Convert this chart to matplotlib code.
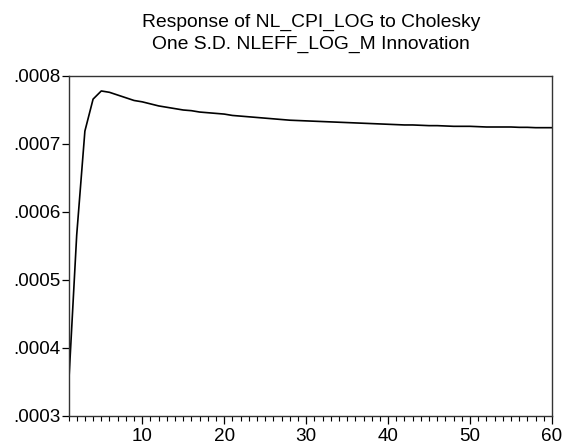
import numpy as np
import matplotlib.pyplot as plt
from matplotlib.ticker import MultipleLocator, FuncFormatter

periods = list(range(1, 61))
# response values in units of 1e-4
response = [3.42, 5.66, 7.19, 7.66, 7.78, 7.76, 7.72, 7.68, 7.64, 7.62,
            7.59, 7.56, 7.54, 7.52, 7.50, 7.49, 7.47, 7.46, 7.45, 7.44,
            7.42, 7.41, 7.40, 7.39, 7.38, 7.37, 7.36, 7.35, 7.345, 7.34,
            7.335, 7.33, 7.325, 7.32, 7.315, 7.31, 7.305, 7.30, 7.295, 7.29,
            7.285, 7.28, 7.28, 7.275, 7.27, 7.27, 7.265, 7.26, 7.26, 7.26,
            7.255, 7.25, 7.25, 7.25, 7.25, 7.245, 7.245, 7.24, 7.24, 7.24]
title_lines = ["Response of NL_CPI_LOG to Cholesky",
               "One S.D. NLEFF_LOG_M Innovation"]

plt.rcParams['font.family'] = ['Liberation Sans', 'DejaVu Sans']

fig = plt.figure(figsize=(5.64, 4.43), dpi=100)
ax = fig.add_axes([68.5 / 564, 1 - 416 / 443, (552 - 68.5) / 564, (416 - 76) / 443])

y = np.array(response) * 1e-4
ax.plot(periods, y, color="black", linewidth=1.2)

ax.set_xlim(1, 60)
ax.set_ylim(0.0003, 0.0008)
ax.xaxis.set_major_locator(MultipleLocator(10))
ax.xaxis.set_minor_locator(MultipleLocator(1))
ax.yaxis.set_major_locator(MultipleLocator(0.0001))
ax.yaxis.set_major_formatter(FuncFormatter(lambda v, p: ("%.4f" % v).lstrip("0")))

ax.tick_params(axis="x", which="major", direction="out", length=5.8, width=0.9,
               labelsize=13.6, pad=2.5)
ax.tick_params(axis="x", which="minor", direction="out", length=3.6, width=0.8)
ax.tick_params(axis="y", which="major", direction="out", length=5, width=0.9,
               labelsize=13.6, pad=1)
for s in ax.spines.values():
    s.set_linewidth(1.0)
    s.set_color("#333333")

fig.text(311 / 564, 1 - 27 / 443, title_lines[0], ha="center", va="baseline", fontsize=13.9)
fig.text(311 / 564, 1 - 48.5 / 443, title_lines[1], ha="center", va="baseline", fontsize=13.9)

fig.savefig("out.png", dpi=100)
